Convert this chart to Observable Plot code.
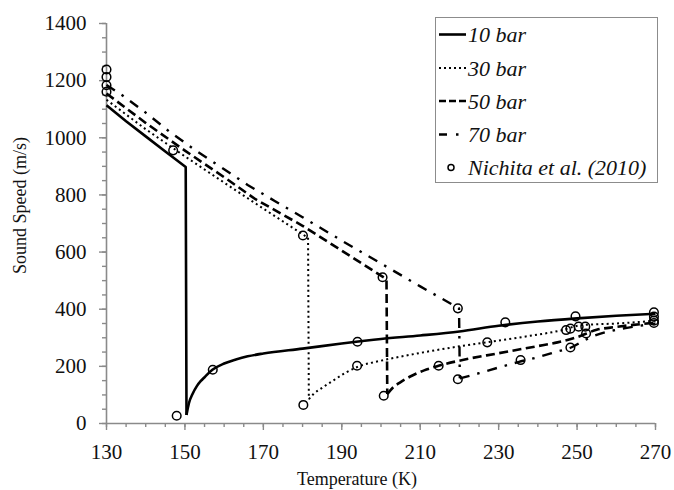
<!DOCTYPE html>
<html><head><meta charset="utf-8">
<script src="https://cdn.jsdelivr.net/npm/d3@7"></script>
<script src="https://cdn.jsdelivr.net/npm/@observablehq/plot@0.6"></script>
<style>
body{margin:0;background:#fff;}
#wrap{position:relative;width:674px;height:490px;font-family:"Liberation Serif",serif;}
#legend{position:absolute;left:435px;top:17px;width:221px;height:164px;border:1px solid #8c8c8c;background:#fff;}
</style></head><body><div id="wrap"></div>
<script>
// ---- data ----
const xTicks = [130, 150, 170, 190, 210, 230, 250, 270];
const yTicks = [0, 200, 400, 600, 800, 1000, 1200, 1400];

const T10 = [130, 135, 140, 145, 150.2, 150.4, 151, 152, 153, 154, 155, 157, 160, 163, 166, 170, 180, 190, 200, 210, 220, 230, 240, 250, 260, 270];
const C10 = [1114, 1058, 1005, 952, 898, 30, 70, 105, 130, 148, 162, 188, 210, 224, 235, 245, 262, 280, 296, 308, 322, 342, 357, 368, 377, 384];

const T30 = [130, 140, 150, 160, 170, 181.4, 181.6, 182.8, 185, 188, 191, 194, 200, 205, 210, 220, 227, 238, 246, 251, 260, 270];
const C30 = [1133, 1030, 935, 843, 752, 650, 85, 103, 125, 152, 178, 198, 220, 234, 247, 270, 284, 307, 326, 344, 350, 360];

const T50 = [130, 140, 150, 160, 168, 180, 190, 201.4, 201.6, 203, 205, 208, 211, 214.7, 220, 230, 240, 245, 250, 255, 260, 270];
const C50 = [1155, 1052, 955, 862, 785, 692, 605, 505, 103, 125, 145, 168, 186, 202, 220, 246, 271, 284, 302, 328, 338, 353];

const T70 = [130, 134, 140, 146, 153, 160, 166, 173, 180, 190, 200, 210, 219.9, 220.1, 225, 230, 235, 240, 245, 248.5, 252, 255, 260, 265, 270];
const C70 = [1185, 1149, 1088, 1022, 953, 890, 835, 778, 722, 640, 560, 480, 403, 158, 176, 196, 215, 232, 252, 266, 292, 310, 328, 340, 350];

const Tobs = [130, 130, 130, 130, 147, 147.9, 157.1, 180.1, 180.2, 193.9, 194, 200.4, 200.7, 214.7, 219.6, 219.6, 227.1, 231.7, 235.6, 247.2, 248.3, 248.3, 249.6, 250.4, 252.1, 252.3, 269.6, 269.6, 269.6, 269.6];
const Cobs = [1239, 1213, 1184, 1161, 956, 27, 188, 658, 65, 202, 286, 512, 97, 202, 403, 155, 284, 354, 222, 327, 332, 266, 375, 339, 339, 315, 389, 374, 360, 352];

const seriesNames = ["10 bar", "30 bar", "50 bar", "70 bar"];
const obsName = "Nichita et al. (2010)";

// ---- styles ----
const styles = {
  "10 bar": {dash: null, width: 2.6},
  "30 bar": {dash: "2,3.2", width: 2},
  "50 bar": {dash: "9,4.5", width: 2.6},
  "70 bar": {dash: "10,8,2.5,8", width: 2.4}
};
const seriesT = [T10, T30, T50, T70];
const seriesC = [C10, C30, C50, C70];

const toRows = (T, C) => T.map((t, i) => ({T: t, c: C[i]}));
const obs = toRows(Tobs, Cobs);

const axisColor = "#8a8a8a";
const font = "'Liberation Serif', 'Times New Roman', serif";

// each curve: straight liquid branch + vertical drop (linear), smooth vapour branch (monotone)
const lineMarks = seriesNames.flatMap((name, k) => {
  const rows = toRows(seriesT[k], seriesC[k]);
  let drop = rows.findIndex((r, i) => i > 0 && rows[i - 1].c - r.c > 200);
  const upper = rows.slice(0, drop + 1);
  const lower = rows.slice(drop);
  const opts = {x: "T", y: "c", stroke: "#000", strokeWidth: styles[name].width,
    strokeDasharray: styles[name].dash, strokeLinecap: "butt", strokeLinejoin: "round"};
  return [
    Plot.line(upper, {...opts, curve: "linear"}),
    Plot.line(lower, {...opts, curve: "monotone-x"})
  ];
});

const fmt = d => String(d);

const chart = Plot.plot({
  width: 674, height: 490,
  marginLeft: 106, marginRight: 19, marginTop: 23, marginBottom: 67,
  style: {fontFamily: font, background: "#fff", color: "#000"},
  x: {domain: [130, 270]},
  y: {domain: [0, 1400]},
  marks: [
    Plot.axisX({ticks: d3.range(130, 271, 5), tickSize: 4, tickFormat: () => "", stroke: axisColor, strokeWidth: 1.4, label: null}),
    Plot.axisX({ticks: xTicks, tickSize: 7, tickPadding: 14, tickFormat: fmt, fontSize: 21, fontFamily: font, stroke: axisColor, strokeWidth: 1.4, fill: "#111", label: null}),
    Plot.axisY({ticks: d3.range(0, 1401, 50), tickSize: 4, tickFormat: () => "", stroke: axisColor, strokeWidth: 1.4, label: null}),
    Plot.axisY({ticks: yTicks, tickSize: 7, tickPadding: 13, tickFormat: fmt, fontSize: 21, fontFamily: font, stroke: axisColor, strokeWidth: 1.4, fill: "#111", label: null}),
    Plot.ruleX([130], {stroke: axisColor, strokeWidth: 1.6}),
    Plot.ruleY([0], {stroke: axisColor, strokeWidth: 1.6}),
    ...lineMarks,
    Plot.dot(obs, {x: "T", y: "c", r: 4.3, stroke: "#000", strokeWidth: 1.5, fill: "none"}),
    Plot.text(["Temperature (K)"], {frameAnchor: "bottom", dx: -24, dy: 61, fontSize: 18, fontFamily: font, textAnchor: "middle", lineAnchor: "bottom", fill: "#111"}),
    Plot.text(["Sound Speed (m/s)"], {frameAnchor: "left", rotate: -90, dx: -86, dy: -18, fontSize: 18, fontFamily: font, textAnchor: "middle", lineAnchor: "middle", fill: "#111"})
  ]
});

const wrap = document.getElementById("wrap");
wrap.appendChild(chart);

// ---- legend ----
const leg = document.createElement("div");
leg.id = "legend";
wrap.appendChild(leg);
const svg = d3.select(leg).append("svg").attr("width", 221).attr("height", 164)
  .style("font-family", font).style("font-style", "italic").style("font-size", "22px");
const rowY = [16.5, 50, 83, 116.5, 149.5];
const legendDash = {"10 bar": null, "30 bar": "2,3", "50 bar": "7,3", "70 bar": "8,9,2.5,9"};
seriesNames.forEach((name, i) => {
  svg.append("line").attr("x1", 3).attr("x2", 30).attr("y1", rowY[i]).attr("y2", rowY[i])
    .attr("stroke", "#000").attr("stroke-width", styles[name].width)
    .attr("stroke-dasharray", legendDash[name]);
  svg.append("text").attr("x", 32).attr("y", rowY[i]).attr("dy", "0.35em").attr("fill", "#111").text(name);
});
svg.append("circle").attr("cx", 15).attr("cy", rowY[4]).attr("r", 3).attr("fill", "none")
  .attr("stroke", "#000").attr("stroke-width", 1.5);
svg.append("text").attr("x", 32).attr("y", rowY[4]).attr("dy", "0.35em").attr("fill", "#111").text(obsName);
</script></body></html>
